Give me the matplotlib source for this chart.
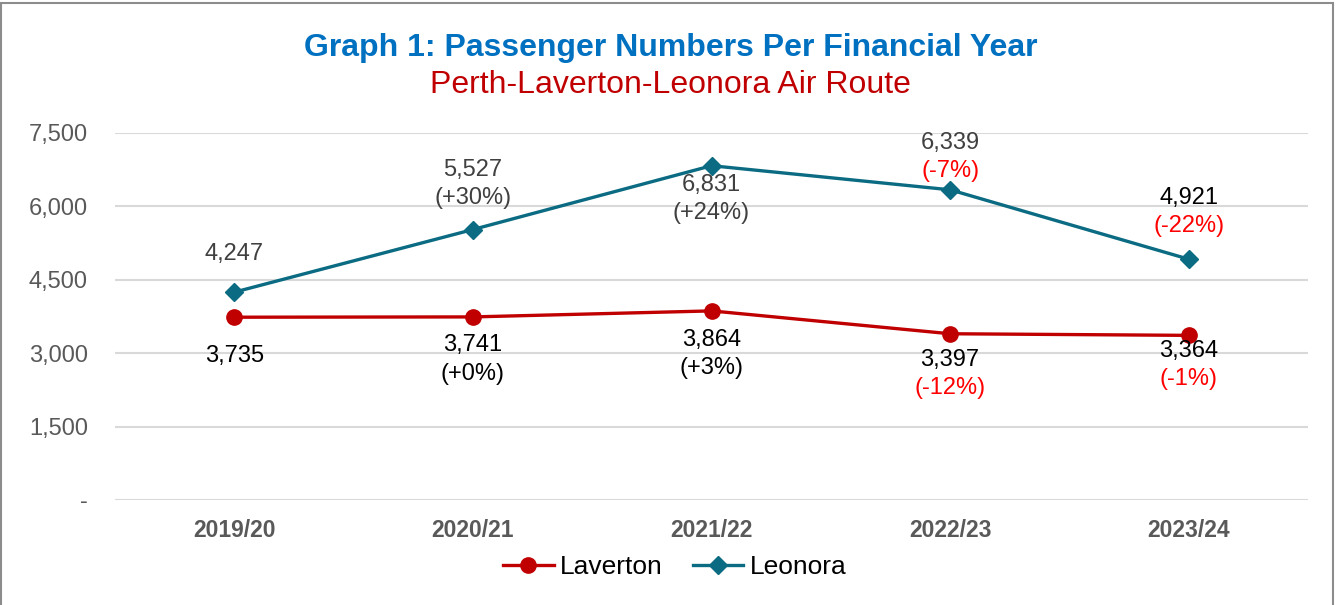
import matplotlib.pyplot as plt
from matplotlib.patches import Rectangle

plt.rcParams['font.family'] = ['Liberation Sans', 'DejaVu Sans']

years = ['2019/20', '2020/21', '2021/22', '2022/23', '2023/24']
laverton = [3735, 3741, 3864, 3397, 3364]
leonora = [4247, 5527, 6831, 6339, 4921]
yticks = [0, 1500, 3000, 4500, 6000, 7500]
ytick_labels = ['-', '1,500', '3,000', '4,500', '6,000', '7,500']

red = '#C00000'
teal = '#0B6B82'

# label offsets in pixels (value line, percent line)
leo_off = [(38, None), (60, 32), (-19, -47), (47, 19), (61, 33)]
lav_off = [(-39, None), (-28, -57), (-29, -57), (-26, -54), (-16, -44)]
leo_valcol = ['#404040', '#404040', '#404040', '#404040', 'black']

fig = plt.figure(figsize=(13.41, 6.05), dpi=100)
ax = fig.add_axes([0.0858, 0.1736, 0.8896, 0.6066])

x = list(range(len(years)))
ax.plot(x, laverton, color=red, lw=2.4, marker='o', ms=11, label='Laverton', zorder=3)
ax.plot(x, leonora, color=teal, lw=2.4, marker='D', ms=9, label='Leonora', zorder=3)


def pct_labels(vals, offs, valcols, poscol):
    for i, v in enumerate(vals):
        vo, po = offs[i]
        ax.annotate(f'{v:,}', (i, v), xytext=(0, vo), textcoords='offset pixels',
                    ha='center', va='center', fontsize=17, color=valcols[i])
        if po is not None:
            p = round((v - vals[i - 1]) / vals[i - 1] * 100)
            txt = f'(+{p}%)' if p >= 0 else f'({p}%)'
            col = poscol if p >= 0 else '#FF0000'
            ax.annotate(txt, (i, v), xytext=(0, po), textcoords='offset pixels',
                        ha='center', va='center', fontsize=17, color=col)


pct_labels(leonora, leo_off, leo_valcol, '#404040')
pct_labels(laverton, lav_off, ['black'] * 5, 'black')

ax.set_xlim(-0.5, 4.5)
ax.set_ylim(0, 7500)
ax.set_yticks(yticks)
ax.set_yticklabels(ytick_labels)
ax.set_xticks(x)
ax.set_xticklabels(years, fontweight='bold')
ax.tick_params(axis='y', length=0, pad=19.5, labelsize=17, labelcolor='#595959')
ax.tick_params(axis='x', length=0, pad=14, labelsize=16.5, labelcolor='#595959')
ax.grid(axis='y', color='#D9D9D9', lw=1.5)
ax.set_axisbelow(True)
for s in ax.spines.values():
    s.set_visible(False)
for t in ax.texts:
    t.set_clip_on(False)

fig.text(0.5, 0.92, 'Graph 1: Passenger Numbers Per Financial Year', ha='center', va='center',
         fontsize=23, fontweight='bold', color='#0070C0')
fig.text(0.5, 0.86, 'Perth-Laverton-Leonora Air Route', ha='center', va='center',
         fontsize=23, color=red)

fig.legend(loc='center', bbox_to_anchor=(0.5034, 0.063), ncol=2, frameon=False, fontsize=19,
           handlelength=1.9, columnspacing=1.15, handletextpad=0.25)

fig.patches.append(Rectangle((0.0005, -0.01), 1332 / 1341, (605 - 3) / 605 + 0.01,
                             transform=fig.transFigure, fill=False, edgecolor='#8C8C8C', lw=1.5))

fig.savefig('out.png', dpi=100, facecolor='white')
